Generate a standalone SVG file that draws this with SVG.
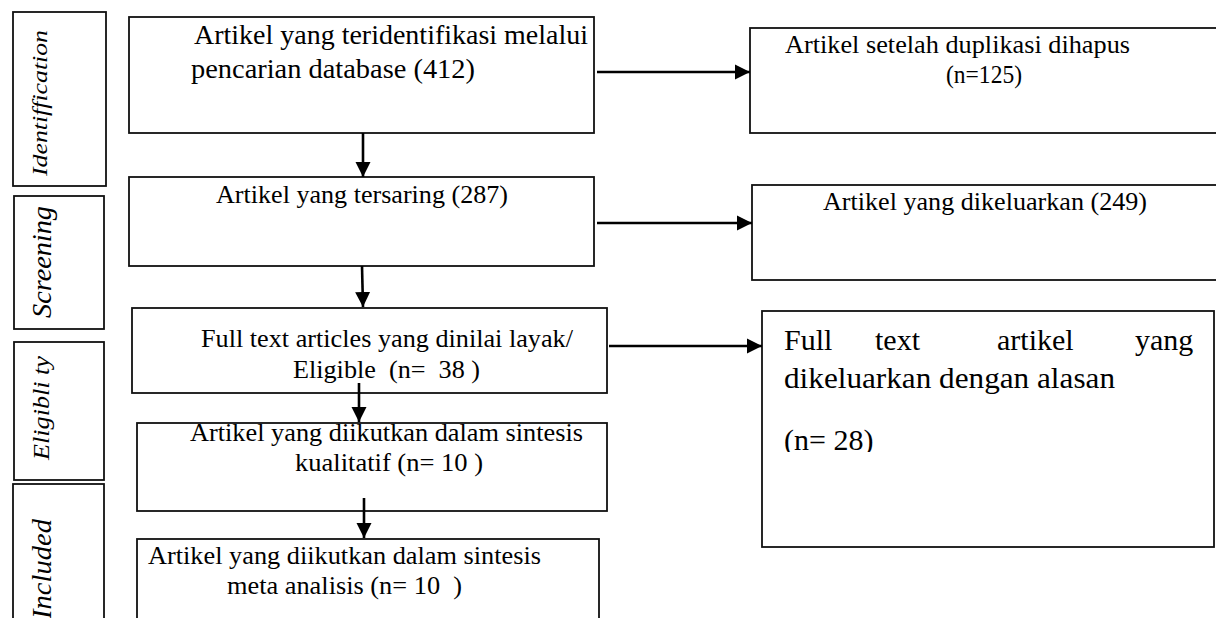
<svg xmlns="http://www.w3.org/2000/svg" width="1216" height="618" viewBox="0 0 1216 618">
<style>
.box{fill:#fff;stroke:#111;stroke-width:1.8}
.t{font-family:"Liberation Serif","Times New Roman",serif;fill:#000}
.tm{font-size:26px}
.tc{font-size:27px}
.ph{font-family:"Liberation Serif","Times New Roman",serif;font-style:italic;fill:#000}
.conn{stroke:#000;stroke-width:2.6;fill:none}
</style>
<defs>
<marker id="ah" markerUnits="userSpaceOnUse" markerWidth="16" markerHeight="16" refX="15" refY="8" orient="auto">
<path d="M0,0.5 L15,8 L0,15.5 z" fill="#000"/>
</marker>
<clipPath id="clipR3"><rect x="762" y="311" width="452" height="141"/></clipPath>
</defs>
<rect width="1216" height="618" fill="#fff"/>

<g id="phase-identification">
<rect class="box" x="13" y="12" width="93" height="174"/>
<text class="ph" font-size="21" transform="translate(47,103) rotate(-90)" text-anchor="middle" textLength="146" lengthAdjust="spacingAndGlyphs">Identiffication</text>
</g>
<g id="phase-screening">
<rect class="box" x="14" y="196" width="90" height="133"/>
<text class="ph" font-size="27" transform="translate(51,262) rotate(-90)" text-anchor="middle" textLength="112" lengthAdjust="spacingAndGlyphs">Screening</text>
</g>
<g id="phase-eligibility">
<rect class="box" x="14" y="342" width="90" height="138"/>
<text class="ph" font-size="23" transform="translate(49,408) rotate(-90)" text-anchor="middle" textLength="104" lengthAdjust="spacingAndGlyphs">Eligibli ty</text>
</g>
<g id="phase-included">
<rect class="box" x="13" y="484" width="91" height="140"/>
<text class="ph" font-size="27" transform="translate(51,569) rotate(-90)" text-anchor="middle" textLength="100" lengthAdjust="spacingAndGlyphs">Included</text>
</g>

<g id="n1">
<rect class="box" x="129" y="17" width="465" height="116"/>
<text class="t tc" x="194" y="44" textLength="394" lengthAdjust="spacingAndGlyphs">Artikel yang teridentifikasi melalui</text>
<text class="t tc" x="191" y="78" textLength="284" lengthAdjust="spacingAndGlyphs">pencarian database (412)</text>
</g>
<g id="n2">
<rect class="box" x="129" y="177" width="465" height="89"/>
<text class="t tm" x="216" y="203" textLength="292" lengthAdjust="spacingAndGlyphs">Artikel yang tersaring (287)</text>
</g>
<g id="n3">
<rect class="box" x="132" y="308" width="475" height="85"/>
<text class="t tm" x="201" y="347" textLength="372" lengthAdjust="spacingAndGlyphs">Full text articles yang dinilai layak/</text>
<text class="t tm" x="293" y="378" xml:space="preserve" textLength="187" lengthAdjust="spacingAndGlyphs">Eligible  (n=  38 )</text>
</g>
<g id="n4">
<rect class="box" x="137" y="423" width="470" height="88"/>
<text class="t tm" x="190" y="441" textLength="393" lengthAdjust="spacingAndGlyphs">Artikel yang diikutkan dalam sintesis</text>
<text class="t tm" x="295" y="471" textLength="188" lengthAdjust="spacingAndGlyphs">kualitatif (n= 10 )</text>
</g>
<g id="n5">
<rect class="box" x="137" y="539" width="462" height="90"/>
<text class="t tm" x="148" y="564" textLength="393" lengthAdjust="spacingAndGlyphs">Artikel yang diikutkan dalam sintesis</text>
<text class="t tm" x="227" y="594" xml:space="preserve" textLength="235" lengthAdjust="spacingAndGlyphs">meta analisis (n= 10  )</text>
</g>
<g id="r1">
<rect class="box" x="750" y="28" width="470" height="105"/>
<text class="t tm" x="785" y="53" textLength="345" lengthAdjust="spacingAndGlyphs">Artikel setelah duplikasi dihapus</text>
<text class="t tm" x="946" y="83" textLength="76" lengthAdjust="spacingAndGlyphs">(n=125)</text>
</g>
<g id="r2">
<rect class="box" x="752" y="185" width="468" height="95"/>
<text class="t tm" x="823" y="210" textLength="324" lengthAdjust="spacingAndGlyphs">Artikel yang dikeluarkan (249)</text>
</g>
<g id="r3">
<rect class="box" x="762" y="311" width="452" height="236"/>
<text class="t" font-size="30" y="350"><tspan x="784">Full</tspan><tspan x="875">text</tspan><tspan x="997">artikel</tspan><tspan x="1135">yang</tspan></text>
<text class="t" font-size="30" x="784" y="388" textLength="331" lengthAdjust="spacingAndGlyphs">dikeluarkan dengan alasan</text>
<text class="t" font-size="30" x="784" y="450" clip-path="url(#clipR3)">(n= 28)</text>
</g>

<g id="connectors">
<line class="conn" x1="363" y1="133" x2="363" y2="177" marker-end="url(#ah)"/>
<line class="conn" x1="362" y1="266" x2="363" y2="307" marker-end="url(#ah)"/>
<line class="conn" x1="359" y1="383" x2="359" y2="422" marker-end="url(#ah)"/>
<line class="conn" x1="364" y1="498" x2="364" y2="538" marker-end="url(#ah)"/>
<line class="conn" x1="597" y1="72" x2="750" y2="72" marker-end="url(#ah)"/>
<line class="conn" x1="597" y1="223" x2="752" y2="223" marker-end="url(#ah)"/>
<line class="conn" x1="609" y1="346" x2="762" y2="346" marker-end="url(#ah)"/>
</g>
</svg>
